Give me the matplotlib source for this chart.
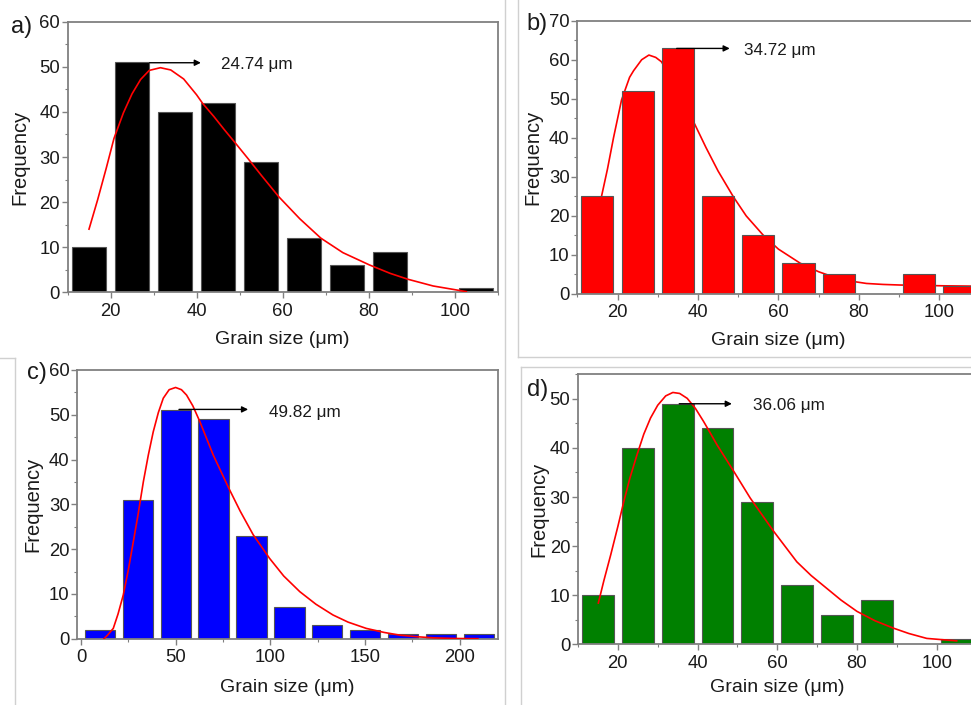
import matplotlib
matplotlib.use("Agg")
import matplotlib.pyplot as plt
from matplotlib.lines import Line2D
from matplotlib.ticker import MultipleLocator

plt.rcParams['font.family'] = ['Liberation Sans', 'DejaVu Sans']

# ---------------- data ----------------
a_centers = [15, 25, 35, 45, 55, 65, 75, 85, 95, 105]
a_counts = [10, 51, 40, 42, 29, 12, 6, 9, 0, 1]
a_fit_x = [15, 17, 19, 20.8, 23, 25, 27, 29, 31.6, 34, 37, 40, 41.4, 44, 46.5, 49.1,
           52, 55, 59.1, 64, 68.9, 74, 80.2, 85, 89.1, 95, 102.7]
a_fit_y = [14.0, 20.5, 27.5, 34.1, 39.8, 44.0, 47.2, 49.2, 49.8, 49.3, 47.3, 43.8, 41.9, 39.0, 36.0, 33.0,
           29.6, 26.0, 21.2, 16.3, 12.0, 8.8, 6.06, 4.2, 2.9, 1.4, 0.15]

b_centers = [15, 25, 35, 45, 55, 65, 75, 85, 95, 105]
b_counts = [25, 52, 63, 25, 15, 8, 5, 0, 5, 2]
b_fit_x = [15, 16, 17.5, 19, 21, 23, 24, 26, 27.8, 29.5, 30.9, 33, 36, 39.1, 42, 45, 48.8,
           52, 56.2, 60, 65.4, 70, 73.6, 78, 81.9, 86, 90.2, 101, 110]
b_fit_y = [21.0, 24.9, 32.0, 40.0, 49.7, 55.5, 57.2, 60.0, 61.2, 60.6, 59.5, 56.0, 50.0, 43.7, 37.5, 31.5, 24.9,
           20.0, 15.1, 11.5, 7.9, 5.7, 4.4, 3.3, 2.7, 2.45, 2.3, 2.1, 2.0]

c_centers = [10, 30, 50, 70, 90, 110, 130, 150, 170, 190, 210]
c_counts = [2, 31, 51, 49, 23, 7, 3, 2, 1, 1, 1]
c_fit_x = [12.1, 14, 17, 19.5, 22.3, 25, 27.6, 30, 32.9, 35.5, 38.1, 40.8, 43.4, 46.5, 49.9, 53, 55.7,
           59, 62.7, 66, 69.8, 74, 78, 84, 90.9, 99.6, 107, 115.5, 124, 133, 141, 150.6, 160,
           168.2, 177, 185.8, 197, 209.5]
c_fit_y = [0.0, 0.8, 2.3, 5.5, 9.8, 15.5, 21.7, 27.5, 35.1, 41.0, 46.2, 50.5, 53.7, 55.6, 56.1, 55.6, 54.4,
           52.0, 48.5, 45.0, 41.0, 37.2, 33.6, 28.5, 23.2, 17.9, 14.0, 10.5, 7.7, 5.3, 3.7, 2.3, 1.4,
           0.8, 0.45, 0.2, 0.05, 0.0]

d_centers = [15, 25, 35, 45, 55, 65, 75, 85, 95, 105]
d_counts = [10, 40, 49, 44, 29, 12, 6, 9, 0, 1]
d_fit_x = [15.1, 16.5, 18.2, 20, 21.5, 23, 24.8, 26.5, 28.2, 30, 32, 33.8, 35.5, 37.4, 39.5, 41.5, 43,
           44.9, 47, 49.1, 53.2, 59.1, 64.9, 68.5, 72.4, 76, 80, 84.5, 89.1, 93, 97.5, 105]
d_fit_y = [8.4, 13.0, 18.2, 24.0, 29.1, 33.8, 38.6, 42.8, 46.1, 48.7, 50.6, 51.3, 51.1, 50.1, 48.0, 45.4, 43.3,
           40.6, 37.9, 35.2, 29.8, 23.0, 16.8, 14.0, 11.4, 9.0, 6.7, 4.8, 3.3, 2.2, 1.2, 0.7]

labels = ['a)', 'b)', 'c)', 'd)']
colors = ['#000000', '#ff0000', '#0000ff', '#008000']
mean_texts = ['24.74 μm', '34.72 μm', '49.82 μm', '36.06 μm']

# ---------------- layout ----------------
W, H = 971, 705
fig = plt.figure(figsize=(W / 100, H / 100), dpi=100)


def add_ax(left, right, top, bottom):
    return fig.add_axes([left / W, 1 - bottom / H, (right - left) / W, (bottom - top) / H])


def fig_line(x0, y0, x1, y1, color='#d0d0d0'):
    fig.add_artist(Line2D([x0 / W, x1 / W], [1 - y0 / H, 1 - y1 / H], transform=fig.transFigure,
                          color=color, lw=1.0))


# panel frames (screenshot borders)
fig_line(504.5, 0, 504.5, 705)
fig_line(517.5, 0, 517.5, 356.7)
fig_line(517.5, 356.7, 971, 356.7)
fig_line(15, 358, 15, 705)
fig_line(0, 358, 15, 358)
fig_line(521, 366.7, 521, 705)
fig_line(521, 366.7, 971, 366.7)

specs = [
    dict(box=(67.5, 497.7, 21.7, 292.3), centers=a_centers, counts=a_counts, width=8.0,
         fx=a_fit_x, fy=a_fit_y, xlim=(10, 110), ylim=(0, 60), xmaj=20, xmin=10, fit_top=True,
         arrow=((29.1, 50.9), (41.0, 50.9)), text=(45.6, 50.5),
         ylab_x=20, xlab_y=340, plabel=(11, 27)),
    dict(box=(577.3, 979.5, 20.7, 294.0), centers=b_centers, counts=b_counts, width=8.0,
         fx=b_fit_x, fy=b_fit_y, xlim=(10, 110), ylim=(0, 70), xmaj=20, xmin=10, fit_top=False,
         arrow=((34.7, 62.9), (47.9, 62.9)), text=(51.5, 62.3),
         ylab_x=533, xlab_y=341, plabel=(526, 24)),
    dict(box=(77.3, 497.7, 370.0, 638.7), centers=c_centers, counts=c_counts, width=16.0,
         fx=c_fit_x, fy=c_fit_y, xlim=(-2, 220), ylim=(0, 60), xmaj=50, xmin=25, fit_top=True,
         arrow=((51.7, 51.2), (88.2, 51.2)), text=(99.1, 50.5),
         ylab_x=33, xlab_y=688, plabel=(27, 373)),
    dict(box=(578.0, 976.6, 374.3, 644.3), centers=d_centers, counts=d_counts, width=8.0,
         fx=d_fit_x, fy=d_fit_y, xlim=(10, 110), ylim=(0, 55), xmaj=20, xmin=10, fit_top=True,
         arrow=((35.4, 49.0), (48.6, 49.0)), text=(53.9, 48.6),
         ylab_x=539, xlab_y=688, plabel=(527, 390)),
]

spine_col = '#808080'
for i, s in enumerate(specs):
    left, right, top, bottom = s['box']
    ax = add_ax(left, right, top, bottom)
    ax.bar(s['centers'], s['counts'], width=s['width'], color=colors[i], edgecolor='#555555',
           linewidth=0.8, zorder=2)
    ax.plot(s['fx'], s['fy'], color='#ff0000', lw=1.2, zorder=3 if s['fit_top'] else 1)
    ax.set_xlim(*s['xlim'])
    ax.set_ylim(*s['ylim'])
    ax.xaxis.set_major_locator(MultipleLocator(s['xmaj']))
    ax.xaxis.set_minor_locator(MultipleLocator(s['xmin']))
    ax.yaxis.set_major_locator(MultipleLocator(10))
    ax.yaxis.set_minor_locator(MultipleLocator(5))
    for sp in ax.spines.values():
        sp.set_color(spine_col)
        sp.set_linewidth(1.3)
    ax.tick_params(which='major', direction='out', length=4, width=1.0, color=spine_col,
                   labelsize=13.3, labelcolor='#1a1a1a', pad=1.5)
    ax.tick_params(which='minor', direction='out', length=2, width=0.8, color=spine_col)
    ax.tick_params(axis='x', which='major', pad=3.5)
    ax.set_xticks([t for t in ax.get_xticks() if s['xlim'][0] <= t <= s['xlim'][1] - 5])
    # annotation arrow and text
    (x0, y0), (x1, y1) = s['arrow']
    ax.annotate('', xy=(x1, y1), xytext=(x0, y0),
                arrowprops=dict(arrowstyle='-|>', color='black', lw=1.0, mutation_scale=9,
                                shrinkA=0, shrinkB=0), zorder=4)
    ax.text(s['text'][0], s['text'][1], mean_texts[i], fontsize=12.3, va='center', ha='left',
            color='#1a1a1a', zorder=4)
    # axis labels
    ax.set_ylabel('Frequency', fontsize=14.5, color='#1a1a1a')
    ax.set_xlabel('Grain size (μm)', fontsize=14, color='#1a1a1a')
    ax.yaxis.label.set_va('center')
    ax.xaxis.label.set_va('center')
    ax.yaxis.set_label_coords((s['ylab_x'] - left) / (right - left), 0.5)
    ax.xaxis.set_label_coords(0.5, (bottom - s['xlab_y']) / (bottom - top))
    # panel label
    fig.text(s['plabel'][0] / W, 1 - s['plabel'][1] / H, labels[i], fontsize=17,
             ha='left', va='center', color='#1a1a1a')

fig.savefig('out.png', dpi=100)
